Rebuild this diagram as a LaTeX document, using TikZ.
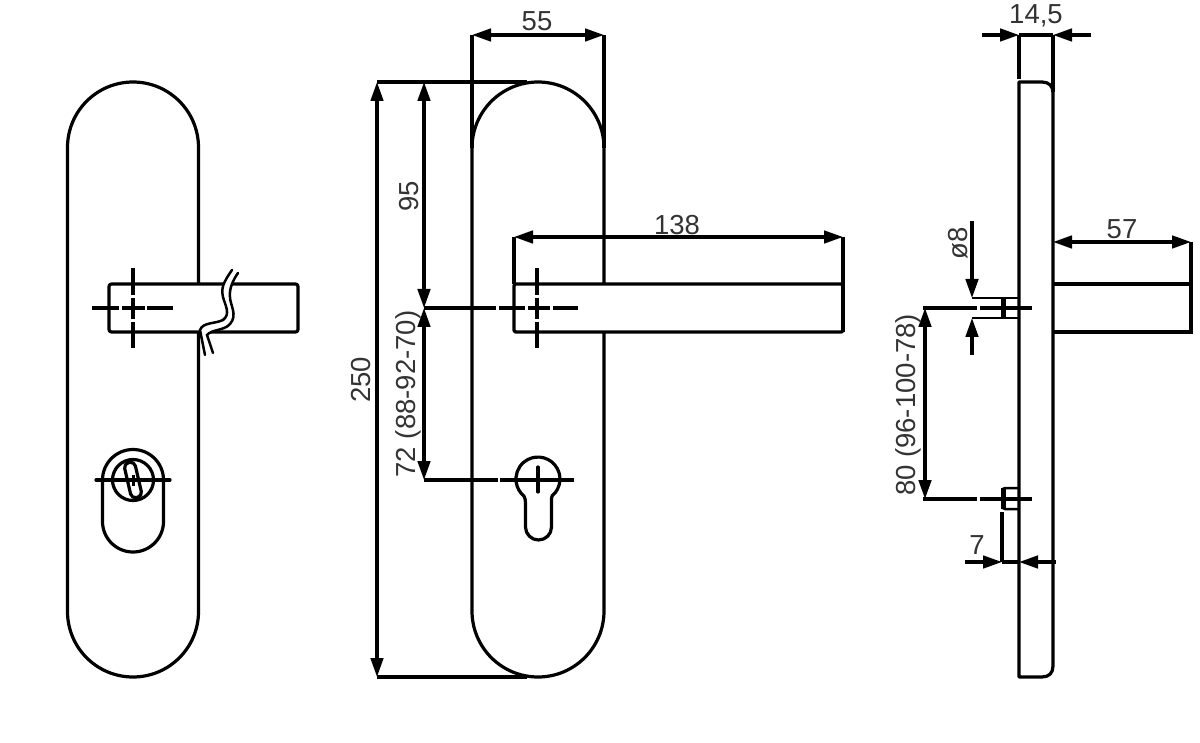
\documentclass[tikz,border=0pt]{standalone}
\usepackage{fontspec}
\setmainfont{Liberation Sans}
\usetikzlibrary{arrows.meta}
\definecolor{dimtext}{gray}{0.2}
\tikzset{
  part/.style={line width=3.2pt,black,line cap=round,line join=round},
  dimline/.style={line width=3.2pt,black,{Triangle[length=19pt,width=12.5pt]}-{Triangle[length=19pt,width=12.5pt]}},
  tiponly/.style={line width=3.2pt,black,-{Triangle[length=19pt,width=12.5pt]}},
  thinpart/.style={line width=2.5pt,black},
  thick bar/.style={line width=5pt,black},
  dimlabel/.style={font=\fontsize{27.5}{27.5}\selectfont,text=dimtext,inner sep=0pt},
  vlabel/.style={dimlabel,rotate=90}
}
\begin{document}
\begin{tikzpicture}[x=1pt,y=-1pt]
\useasboundingbox (0,0) rectangle (1200,743);
\fill[white] (0,0) rectangle (1200,743);

% ---------- left view
\draw[part] (67.5,147.5) arc[start angle=180,end angle=0,x radius=65.5,y radius=-65.5]
  -- (198.5,611.5) arc[start angle=0,end angle=-180,x radius=65.5,y radius=-65.5] -- cycle;
\draw[part,fill=white,rounded corners=2.5pt] (109,284) rectangle (298,332);
% break lines
\fill[white] (232,270) .. controls (223,283) and (221,288) .. (223,297)
  .. controls (225,305) and (231,314) .. (223,320)
  .. controls (215,324) and (203,322) .. (200,330) -- (205,355) -- (213,353) -- (207,335)
  .. controls (212,329) and (224,331) .. (230,324)
  .. controls (238,315) and (230,305) .. (230,297)
  .. controls (229,289) and (233,280) .. (238,273) -- cycle;
\draw[thinpart,line cap=round] (232,270) .. controls (223,283) and (221,288) .. (223,297)
  .. controls (225,305) and (231,314) .. (223,320)
  .. controls (215,324) and (203,322) .. (200,330) -- (205,355);
\draw[thinpart,line cap=round] (238,273) .. controls (233,280) and (229,289) .. (230,297)
  .. controls (230,305) and (238,315) .. (230,324)
  .. controls (224,331) and (212,329) .. (207,335) -- (213,353);
% centre cross
\draw[part,line cap=butt] (133,268) -- (133,295) (133,298) -- (133,319) (133,322) -- (133,348);
\draw[part,line cap=butt] (92,308) -- (119,308) (122,308) -- (145,308) (147,308) -- (173,308);
% cylinder cover
\draw[part] (102.5,480) arc[start angle=180,end angle=0,x radius=30.5,y radius=-30.5]
  -- (163.5,521.5) arc[start angle=0,end angle=-180,x radius=30.5,y radius=-30.5] -- cycle;
\draw[part] (133,480) circle[radius=20.5];
\draw[part,rotate around={13:(133,480)},rounded corners=5pt] (127.5,462) rectangle (138.5,498);
\draw[part] (96,480) -- (170,480);
\draw[line width=3pt,black] (133,475) -- (133,486);

% ---------- middle view
\draw[part] (472,148) arc[start angle=180,end angle=0,x radius=66,y radius=-66]
  -- (604,611) arc[start angle=0,end angle=-180,x radius=66,y radius=-66] -- cycle;
\draw[part,fill=white,rounded corners=1.5pt] (514,284) rectangle (843,332);
\draw[part,line cap=butt] (537,268) -- (537,295) (537,298) -- (537,319) (537,322) -- (537,348);
% keyhole
\draw[part] (523.9,495.9) .. controls (525,498) and (525.5,500) .. (525.5,503) -- (525.5,527)
  arc[start angle=180,end angle=0,x radius=13,y radius=13]
  -- (551.5,503) .. controls (551.5,500) and (551,498) .. (552.1,495.9)
  arc[start angle=50,end angle=-230,x radius=22,y radius=22];
\draw[part] (538,467) -- (538,492);
% extension lines
\draw[part,line cap=butt] (472,35) -- (472,148);
\draw[part,line cap=butt] (604,35) -- (604,148);
\draw[part,line cap=butt] (377,82) -- (527,82);
\draw[part,line cap=butt] (377,677) -- (527,677);
\draw[part,line cap=butt] (424,308) -- (496,308) (499,308) -- (525,308) (528,308) -- (550,308) (553,308) -- (578,308);
\draw[part,line cap=butt] (424,480) -- (498,480) (500,480) -- (574,480);
\draw[part,line cap=butt] (514,237) -- (514,284);
\draw[part,line cap=butt] (843,237) -- (843,332);
% dimensions
\coordinate (a55l) at (472,35); \coordinate (a55r) at (604,35);
\coordinate (a250t) at (377,82); \coordinate (a250b) at (377,677);
\coordinate (a95t) at (424,82); \coordinate (a95b) at (424,308);
\coordinate (a72b) at (424,480);
\coordinate (a138l) at (514,237); \coordinate (a138r) at (843,237);
\draw[dimline] (a55l) -- (a55r);
\draw[dimline] (a250t) -- (a250b);
\draw[dimline] (a95t) -- (a95b);
\draw[dimline] (a95b) -- (a72b);
\draw[dimline] (a138l) -- (a138r);
\node[dimlabel] (t55) at (537,21) {55};
\node[dimlabel] (t138) at (677,225) {138};
\node[vlabel] (t95) at (409,196) {95};
\node[vlabel] (t250) at (361,380) {250};
\node[vlabel] (t72) at (408,394) {72 (88-92-70)};

% ---------- right view
\draw[part,line cap=butt] (1019,35) -- (1019,79);
\draw[part,line cap=butt] (1053,35) -- (1053,92);
\draw[part] (1019,82) -- (1042,82) .. controls (1049,82) and (1053,86) .. (1053,93)
  -- (1053,666) .. controls (1053,673) and (1049,677) .. (1042,677) -- (1019,677) -- cycle;
\draw[part,line cap=butt] (1053,284) -- (1193,284) (1053,332) -- (1193,332);
\draw[part,line cap=butt] (1191,242) -- (1191,332);
% upper screw
\draw[thinpart] (972,298) -- (1019,298) (972,318) -- (1019,318);
\draw[thick bar] (1003.5,298) -- (1003.5,319);
\draw[part,line cap=butt] (923,308) -- (977,308) (980,308) -- (1032,308);
% lower screw
\draw[thinpart,rounded corners=2pt] (1019,488) -- (1003,488) -- (1003,509) -- (1019,509);
\draw[thick bar] (1003,488) -- (1003,509);
\draw[part,line cap=butt] (923,499) -- (977,499) (980,499) -- (1032,499);
\draw[part,line cap=butt] (1002,512) -- (1002,562);
% dimensions
\coordinate (a145a) at (982,35); \coordinate (a145l) at (1019,35);
\coordinate (a145r) at (1053,35); \coordinate (a145b) at (1091,35);
\coordinate (a57l) at (1053,242); \coordinate (a57r) at (1191,242);
\coordinate (a8a) at (972,221); \coordinate (a8t) at (972,298);
\coordinate (a8b) at (972,318); \coordinate (a8c) at (972,355);
\coordinate (a80t) at (925,308); \coordinate (a80b) at (925,499);
\coordinate (a7a) at (965,562); \coordinate (a7l) at (1002,562);
\coordinate (a7r) at (1019,562); \coordinate (a7b) at (1056,562);
\draw[tiponly] (a145a) -- (a145l);
\draw[tiponly] (a145b) -- (a145r);
\draw[part,line cap=butt] (a145l) -- (a145r);
\draw[dimline] (a57l) -- (a57r);
\draw[tiponly] (a8a) -- (a8t);
\draw[tiponly] (a8c) -- (a8b);
\draw[dimline] (a80t) -- (a80b);
\draw[tiponly] (a7a) -- (a7l);
\draw[tiponly] (a7b) -- (a7r);
\draw[part,line cap=butt] (a7l) -- (a7r);
\node[dimlabel] (t145) at (1036,16) {14,5};
\node[dimlabel] (t57) at (1122,229) {57};
\node[vlabel] (t8) at (958,243) {ø8};
\node[vlabel] (t80) at (908,405) {80 (96-100-78)};
\node[dimlabel] (t7) at (977,545) {7};
\end{tikzpicture}
\end{document}
